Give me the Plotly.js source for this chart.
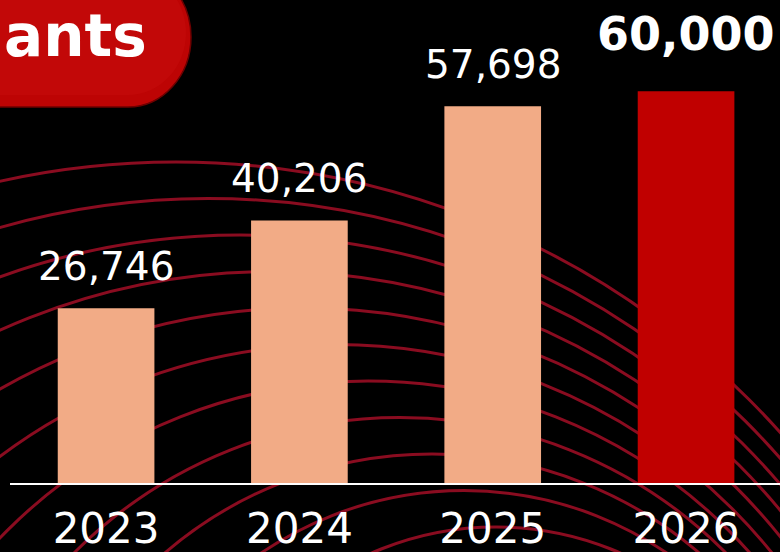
<!DOCTYPE html>
<html>
<head>
<meta charset="utf-8">
<script src="https://cdn.plot.ly/plotly-3.0.1.min.js"></script>
<style>
  html, body { margin: 0; padding: 0; background: #000; overflow: hidden; }
  #chart { width: 780px; height: 552px; }
</style>
</head>
<body>
<div id="chart"></div>
<script>
// ---- data ----
const years = ['2023', '2024', '2025', '2026'];
const participants = [26746, 40206, 57698, 60000];
const valueLabels = ['26,746', '40,206', '57,698', '60,000'];
const titleText = 'ants';

// ---- styles ----
const FONT = 'DejaVu Sans, Verdana, sans-serif';
const SALMON = '#f2ab86';
const RED = '#c00000';
const ARC = '#8a0c20';
const W = 780, H = 552, ML = 10, MR = 0, MT = 0, MB = 69;
const PW = W - ML - MR, PH = H - MT - MB;

// pixel -> paper helpers (decoration only)
const px = x => (x - ML) / PW;
const py = y => (H - MB - y) / PH;

// decorative ripple arcs (circles, pixel geometry)
const shapes = [];
for (let i = 0; i <= 10; i++) {
  const cx = 176 + 32 * i;
  const top = 162 + 36.5 * i;
  const r = 810 - 50 * i;
  const cy = top + r;
  shapes.push({
    type: 'circle', xref: 'paper', yref: 'paper', layer: 'below',
    x0: px(cx - r), x1: px(cx + r), y0: py(cy + r), y1: py(cy - r),
    line: { color: ARC, width: 3 }, fillcolor: 'rgba(0,0,0,0)'
  });
}

// title pill (rounded right end) with a soft highlight
const k = 0.5523;
const P = (x, y) => px(x) + ',' + py(y);
function pill(ecx, ecy, rx, ry) {
  return 'M ' + P(-40, ecy - ry) +
    ' L ' + P(ecx, ecy - ry) +
    ' C ' + P(ecx + k * rx, ecy - ry) + ' ' + P(ecx + rx, ecy - k * ry) + ' ' + P(ecx + rx, ecy) +
    ' C ' + P(ecx + rx, ecy + k * ry) + ' ' + P(ecx + k * rx, ecy + ry) + ' ' + P(ecx, ecy + ry) +
    ' L ' + P(-40, ecy + ry) + ' Z';
}
shapes.push({
  type: 'path', xref: 'paper', yref: 'paper', layer: 'above', path: pill(128, 37, 63, 70),
  fillcolor: '#bd0404', line: { color: '#6e0000', width: 1.5 }
});
shapes.push({
  type: 'path', xref: 'paper', yref: 'paper', layer: 'above', path: pill(128, 33, 58, 62),
  fillcolor: 'rgba(214,30,30,0.18)', line: { width: 0 }
});

const last = years.length - 1;
const annotations = years.map((y, i) => ({
  x: i, y: participants[i], xref: 'x', yref: 'y',
  text: i === last ? '<b>' + valueLabels[i] + '</b>' : valueLabels[i],
  showarrow: false, xanchor: 'center', yanchor: 'bottom',
  yshift: i === last ? 28 : 17,
  font: { family: FONT, size: i === last ? 46 : 39, color: '#ffffff' }
}));
annotations.push({
  xref: 'paper', yref: 'paper', x: px(149), y: py(36), xanchor: 'right', yanchor: 'middle',
  text: '<b>' + titleText + '</b>', showarrow: false,
  font: { family: FONT, size: 58, color: '#ffffff' }
});

const trace = {
  type: 'bar', x: years, y: participants, width: 0.5,
  marker: { color: years.map((y, i) => i === last ? RED : SALMON), line: { width: 0 } },
  hoverinfo: 'skip', textposition: 'none'
};

const layout = {
  width: W, height: H,
  margin: { l: ML, r: MR, t: MT, b: MB, pad: 0 },
  paper_bgcolor: '#000000', plot_bgcolor: 'rgba(0,0,0,0)',
  showlegend: false,
  xaxis: {
    type: 'category', range: [-0.497, 3.486], fixedrange: true,
    showline: true, linecolor: '#ffffff', linewidth: 2,
    showgrid: false, zeroline: false, ticks: '', ticklabelstandoff: 8,
    tickfont: { family: FONT, size: 42, color: '#ffffff' }
  },
  yaxis: { range: [0, 73966], visible: false, fixedrange: true, showgrid: false, zeroline: false },
  shapes: shapes,
  annotations: annotations
};

Plotly.newPlot('chart', [trace], layout, { displayModeBar: false, staticPlot: true });
</script>
</body>
</html>
